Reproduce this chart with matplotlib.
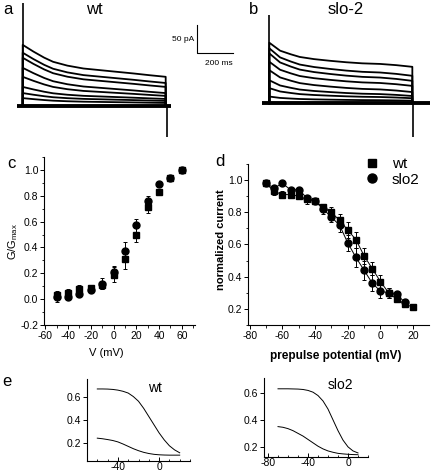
import numpy as np
import matplotlib
matplotlib.use("Agg")
import matplotlib.pyplot as plt
from matplotlib.lines import Line2D
from matplotlib.ticker import MultipleLocator

plt.rcParams['font.family'] = ['Liberation Sans', 'DejaVu Sans']
plt.rcParams['mathtext.fontset'] = 'custom'
plt.rcParams['mathtext.rm'] = 'Liberation Sans'
plt.rcParams['axes.unicode_minus'] = False

# ---- panel a/b: current traces (pA vs ms) ----
trace_t = [0, 60, 120, 170, 250, 340, 430, 520, 620, 710, 800]
wt_shape = [1, 0.79, 0.60, 0.47, 0.35, 0.26, 0.21, 0.16, 0.105, 0.05, 0]
slo_shape = [1, 0.67, 0.52, 0.41, 0.32, 0.25, 0.19, 0.145, 0.12, 0.07, 0]
wt_peak = [109, 95, 86, 68, 52, 34, 23, 14]
wt_end = [52, 41, 34, 23, 18, 12.5, 9, 5.4]
slo_peak = [108, 98, 89, 74, 59, 41, 27, 12]
slo_end = [65, 49, 40, 31, 20, 13, 9, 4.6]
wt_spike = (184, -55)
slo_spike = (157, -61)

# ---- panel c: G/Gmax ----
v_act = [-50, -40, -30, -20, -10, 0, 10, 20, 30, 40, 50, 60]
wt_g = [0.03, 0.05, 0.08, 0.09, 0.11, 0.19, 0.31, 0.50, 0.71, 0.83, 0.94, 1.0]
wt_g_err = [0.03, 0.03, 0.03, 0.02, 0.03, 0.06, 0.08, 0.06, 0.04, 0.02, 0.02, 0.01]
slo_g = [0.015, 0.02, 0.04, 0.067, 0.12, 0.21, 0.37, 0.57, 0.76, 0.89, 0.94, 1.0]
slo_g_err = [0.04, 0.02, 0.02, 0.02, 0.04, 0.05, 0.07, 0.05, 0.04, 0.02, 0.02, 0.01]

# ---- panel d: inactivation ----
v_pre = [-70, -65, -60, -55, -50, -45, -40, -35, -30, -25, -20, -15, -10, -5, 0, 5, 10, 15, 20]
wt_i = [0.98, 0.93, 0.91, 0.91, 0.90, 0.88, 0.87, 0.83, 0.80, 0.75, 0.69, 0.63,
        0.53, 0.45, 0.37, 0.30, 0.26, 0.23, 0.21]
wt_i_err = [0.01, 0.02, 0.02, 0.02, 0.02, 0.03, 0.02, 0.02, 0.03, 0.04, 0.05, 0.05,
            0.05, 0.04, 0.04, 0.03, 0.02, 0.02, 0.01]
slo_i = [0.98, 0.95, 0.98, 0.94, 0.94, 0.89, 0.87, 0.82, 0.77, 0.72, 0.61, 0.52,
         0.44, 0.36, 0.31, 0.30, 0.29, 0.24]
slo_i_err = [0.01, 0.02, 0.01, 0.01, 0.02, 0.02, 0.02, 0.03, 0.03, 0.04, 0.05, 0.06,
             0.06, 0.05, 0.04, 0.03, 0.02, 0.01]

# ---- panel e: curves ----
e_wt_v = [-60, -55, -50, -45, -40, -35, -30, -25, -20, -15, -10, -5, 0, 5, 10, 15, 20]
e_wt_up = [0.665, 0.665, 0.664, 0.661, 0.655, 0.645, 0.63, 0.60, 0.56, 0.50, 0.43,
           0.36, 0.29, 0.23, 0.18, 0.145, 0.12]
e_wt_lo = [0.245, 0.24, 0.233, 0.225, 0.213, 0.195, 0.175, 0.155, 0.138, 0.124,
           0.114, 0.107, 0.103, 0.101, 0.10, 0.10, 0.10]
e_slo_v = [-70, -65, -60, -55, -50, -45, -40, -35, -30, -25, -20, -15, -10, -5, 0, 5, 10]
e_slo_up = [0.63, 0.63, 0.63, 0.629, 0.628, 0.625, 0.618, 0.605, 0.58, 0.54, 0.48,
            0.40, 0.32, 0.25, 0.20, 0.17, 0.155]
e_slo_lo = [0.35, 0.345, 0.335, 0.32, 0.30, 0.28, 0.255, 0.23, 0.205, 0.185, 0.17,
            0.16, 0.152, 0.148, 0.145, 0.143, 0.142]

W, H = 432, 473
fig = plt.figure(figsize=(W / 100, H / 100), dpi=100)


def box(l, t, r, b):
    return [l / W, 1 - b / H, (r - l) / W, (b - t) / H]


def label(x, y, s, **kw):
    fig.text(x / W, 1 - y / H, s, ha='center', va='center', **kw)


# traces
ax = fig.add_axes(box(0, 0, W, 140))
ax.set_xlim(-127, 2290)
ax.set_ylim(-60.7, 189)
ax.axis('off')
for off_t, off_i, shape, peaks, ends, spike, base in [
        (0, 0, wt_shape, wt_peak, wt_end, wt_spike, (-30, 830)),
        (1380, 4.8, slo_shape, slo_peak, slo_end, slo_spike, (-40, 900))]:
    tt = np.array(trace_t) + off_t
    for p, e in zip(peaks, ends):
        y = e + (p - e) * np.array(shape)
        ax.plot(np.r_[off_t, tt, off_t + 800], np.r_[0, y, 0] + off_i,
                color='black', lw=1.3)
    ax.plot([base[0] + off_t, base[1] + off_t], [off_i, off_i], color='black', lw=2.8,
            solid_capstyle='butt')
    ax.vlines(off_t, off_i, off_i + spike[0], color='black', lw=1.2)
    ax.vlines(off_t + 805, off_i + spike[1], off_i, color='black', lw=1.2)
# scale bar
ax.plot([975, 975, 1175], [144.6, 94.6, 94.6], color='black', lw=0.8)
ax.text(958, 119, '50 pA', ha='right', va='center', fontsize=6)
ax.text(1098, 76, '200 ms', ha='center', va='center', fontsize=6)

label(94, 10, 'wt', fontsize=12)
label(346, 10, 'slo-2', fontsize=12)
label(8, 10, 'a', fontsize=12)
label(254, 10, 'b', fontsize=12)
label(11, 164, 'c', fontsize=12)
label(220, 162, 'd', fontsize=12)
label(7, 381, 'e', fontsize=12)


def style(a):
    a.spines['top'].set_visible(False)
    a.spines['right'].set_visible(False)
    a.tick_params(which='major', direction='out', length=3, width=0.7, labelsize=7.5, pad=1)
    a.tick_params(which='minor', direction='out', length=1.8, width=0.6)
    for s in ('left', 'bottom'):
        a.spines[s].set_linewidth(0.8)


# panel c
axc = fig.add_axes(box(44, 157, 195, 325))
style(axc)
axc.errorbar(v_act, wt_g, yerr=wt_g_err, fmt='s', color='black', ms=4.5,
             elinewidth=0.7, capsize=1.5, capthick=0.7)
axc.errorbar(v_act, slo_g, yerr=slo_g_err, fmt='o', color='black', ms=5,
             elinewidth=0.7, capsize=1.5, capthick=0.7)
axc.set_xlim(-61, 71.5)
axc.set_ylim(-0.2, 1.1)
axc.xaxis.set_major_locator(MultipleLocator(20))
axc.xaxis.set_minor_locator(MultipleLocator(10))
axc.yaxis.set_major_locator(MultipleLocator(0.2))
axc.yaxis.set_minor_locator(MultipleLocator(0.1))
axc.set_ylabel('G/G$_{\\rm max}$', fontsize=8)
axc.yaxis.set_label_coords(-0.16, 0.5)
axc.set_xlabel('V (mV)', fontsize=8)
axc.xaxis.set_label_coords(0.41, -0.135)

# panel d
axd = fig.add_axes(box(248, 164, 429, 325))
style(axd)
axd.errorbar(v_pre, wt_i, yerr=wt_i_err, fmt='s-', color='black', ms=4.5, lw=0.7,
             elinewidth=0.7, capsize=1.5, capthick=0.7)
axd.errorbar(v_pre[:len(slo_i)], slo_i, yerr=slo_i_err, fmt='o-', color='black', ms=5,
             lw=0.7, elinewidth=0.7, capsize=1.5, capthick=0.7)
axd.set_xlim(-81, 29.7)
axd.set_ylim(0.1, 1.1)
axd.xaxis.set_major_locator(MultipleLocator(20))
axd.xaxis.set_minor_locator(MultipleLocator(10))
axd.yaxis.set_major_locator(MultipleLocator(0.2))
axd.yaxis.set_minor_locator(MultipleLocator(0.1))
axd.set_ylabel('normalized current', fontsize=8, fontweight='bold')
axd.yaxis.set_label_coords(-0.12, 0.53)
axd.set_xlabel('prepulse potential (mV)', fontsize=8.5, fontweight='bold')
axd.xaxis.set_label_coords(0.486, -0.155)
handles = [Line2D([], [], marker='s', ls='none', color='black', ms=6),
           Line2D([], [], marker='o', ls='none', color='black', ms=6.5)]
axd.legend(handles, ['wt', 'slo2'], loc='upper left', bbox_to_anchor=(0.6, 1.08),
           frameon=False, fontsize=11, handletextpad=0.7, labelspacing=0.1,
           borderaxespad=0, handlelength=1.2)

# panel e
axe1 = fig.add_axes(box(87, 379, 190, 461))
style(axe1)
axe1.plot(e_wt_v, e_wt_up, color='black', lw=0.7)
axe1.plot(e_wt_v, e_wt_lo, color='black', lw=0.7)
axe1.set_xlim(-70, 30)
axe1.set_ylim(0.05, 0.75)
axe1.xaxis.set_major_locator(MultipleLocator(40))
axe1.xaxis.set_minor_locator(MultipleLocator(10))
axe1.set_yticks([0.2, 0.4, 0.6])
axe1.text(0.66, 0.89, 'wt', transform=axe1.transAxes, ha='center', va='center', fontsize=10)

axe2 = fig.add_axes(box(264, 378, 368, 457))
style(axe2)
axe2.plot(e_slo_v, e_slo_up, color='black', lw=0.7)
axe2.plot(e_slo_v, e_slo_lo, color='black', lw=0.7)
axe2.set_xlim(-84, 20)
axe2.set_ylim(0.125, 0.71)
axe2.xaxis.set_major_locator(MultipleLocator(40))
axe2.xaxis.set_minor_locator(MultipleLocator(10))
axe2.set_yticks([0.2, 0.4, 0.6])
axe2.text(0.74, 0.91, 'slo2', transform=axe2.transAxes, ha='center', va='center', fontsize=10)

for a in (axe1, axe2):
    a.tick_params(axis='x', which='both', direction='in', pad=1)

fig.savefig('out.png', dpi=100)
